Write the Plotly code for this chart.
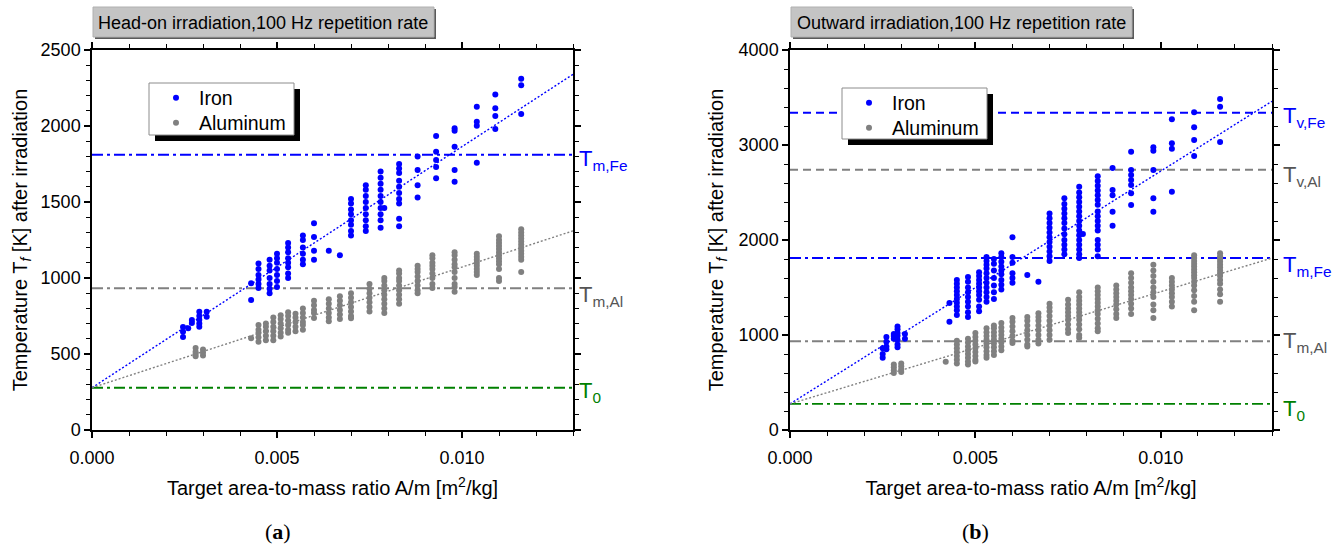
import plotly.graph_objects as go

W, H = 1339, 556

# ---------------- data ----------------
# Head-on irradiation (a)
fe_a_cols = [0.00246, 0.0026, 0.0027, 0.0029, 0.0031, 0.0043, 0.0045, 0.0048, 0.0050, 0.0053,
             0.0057, 0.0060, 0.0064, 0.0067, 0.0070, 0.0074, 0.0078, 0.0079, 0.0083, 0.0088,
             0.0093, 0.0098, 0.0104, 0.0109, 0.0116]
fe_a_vals = [[612, 647, 678], [670], [704, 724], [680, 700, 725, 750, 778], [745, 778],
             [855, 966], [935, 960, 990, 1020, 1060, 1095], [900, 930, 960, 1000, 1050, 1080, 1120],
             [940, 980, 1020, 1060, 1100, 1130, 1160], [1000, 1030, 1070, 1100, 1130, 1170, 1200, 1230],
             [1090, 1120, 1160, 1200, 1250, 1280], [1120, 1180, 1270, 1360], [1180], [1150],
             [1280, 1310, 1350, 1380, 1420, 1450, 1490, 1520],
             [1310, 1340, 1380, 1420, 1460, 1500, 1540, 1580, 1610],
             [1330, 1380, 1420, 1460, 1500, 1540, 1580, 1620, 1660, 1700], [1460],
             [1340, 1390, 1490, 1520, 1560, 1600, 1640, 1690, 1720, 1750],
             [1530, 1610, 1710, 1800], [1656, 1730, 1776, 1831, 1934],
             [1634, 1711, 1864, 1969, 1986], [1758, 2002, 2028, 2127],
             [1980, 2066, 2116, 2208], [2079, 2268, 2311]]

al_a_cols = [0.0028, 0.0030, 0.0043, 0.0045, 0.0047, 0.0049, 0.0051, 0.0053, 0.0055, 0.0057,
             0.0060, 0.0064, 0.0067, 0.0070, 0.0075, 0.0079, 0.0083, 0.0088, 0.0092, 0.0098,
             0.0104, 0.0110, 0.0116]
al_a_vals = [[485, 500, 515, 540], [490, 510, 530], [604], [580, 610, 640, 660, 690],
             [590, 620, 650, 680, 700], [590, 620, 650, 680, 710, 740],
             [615, 640, 670, 700, 730, 755], [640, 660, 690, 720, 750, 775],
             [650, 680, 710, 740, 765], [660, 690, 710, 740, 770, 800],
             [737, 770, 790, 820, 850], [715, 740, 770, 800, 830, 860],
             [730, 760, 790, 820, 850, 880], [735, 750, 780, 810, 840, 870, 900],
             [780, 810, 840, 870, 900, 930, 960], [770, 800, 830, 860, 890, 920, 950, 980, 1000],
             [830, 860, 890, 920, 950, 980, 1000, 1030, 1050],
             [900, 920, 950, 980, 1010, 1040, 1060, 1080],
             [935, 960, 1000, 1030, 1060, 1080, 1100, 1130, 1150],
             [910, 940, 960, 1000, 1040, 1070, 1090, 1120, 1150, 1170],
             [1020, 1040, 1060, 1080, 1100, 1120, 1140, 1160],
             [980, 1000, 1060, 1090, 1110, 1130, 1150, 1170, 1190, 1210, 1230, 1250, 1275],
             [1040, 1120, 1140, 1160, 1180, 1200, 1220, 1240, 1260, 1280, 1300, 1320]]

# Outward irradiation (b)
fe_b_cols = [0.0025, 0.0026, 0.0028, 0.0029, 0.0031, 0.0043, 0.0045, 0.0048, 0.0051, 0.0053,
             0.0055, 0.0057, 0.0060, 0.0064, 0.0067, 0.0070, 0.0074, 0.0078, 0.0079, 0.0083,
             0.0087, 0.0092, 0.0098, 0.0103, 0.0109, 0.0116]
fe_b_vals = [[760, 800, 860], [850, 880, 930, 980], [960, 990, 1010],
             [870, 900, 950, 990, 1020, 1060, 1090], [960, 1010], [1140, 1337],
             [1210, 1260, 1300, 1340, 1380, 1420, 1460, 1500, 1540, 1580],
             [1190, 1240, 1300, 1350, 1400, 1450, 1500, 1560, 1610],
             [1250, 1300, 1370, 1420, 1460, 1500, 1540, 1580, 1620, 1660],
             [1350, 1400, 1450, 1500, 1550, 1600, 1650, 1700, 1740, 1780, 1820],
             [1380, 1450, 1520, 1600, 1680, 1750, 1800],
             [1480, 1530, 1580, 1640, 1680, 1720, 1770, 1820, 1860],
             [1550, 1600, 1650, 1760, 1820, 2030], [1631], [1561],
             [1780, 1830, 1880, 1930, 1980, 2030, 2080, 2130, 2180, 2230, 2280],
             [1850, 1900, 1950, 2000, 2060, 2120, 2180, 2230, 2280, 2330, 2380, 2440],
             [1810, 1850, 1900, 1950, 2000, 2050, 2100, 2150, 2200, 2250, 2300, 2350, 2400,
              2450, 2500, 2560], [2063],
             [1830, 1900, 1950, 2000, 2100, 2150, 2200, 2250, 2300, 2370, 2420, 2470, 2520,
              2570, 2620, 2670],
             [2151, 2298, 2470, 2526, 2758], [2368, 2491, 2579, 2632, 2684, 2737, 2930],
             [2298, 2439, 2737, 2940, 2976], [2509, 2961, 3018, 3270],
             [2884, 3053, 3186, 3344], [3032, 3403, 3484]]

al_b_cols = [0.0028, 0.0030, 0.0042, 0.0045, 0.0048, 0.0050, 0.0053, 0.0055, 0.0057, 0.0060,
             0.0064, 0.0067, 0.0070, 0.0075, 0.0078, 0.0083, 0.0088, 0.0092, 0.0098, 0.0103,
             0.0109, 0.0116]
al_b_vals = [[600, 630, 660, 690], [610, 640, 670, 700], [719],
             [700, 740, 780, 820, 860, 900, 940], [690, 720, 760, 800, 840, 880, 920, 960],
             [720, 740, 780, 820, 860, 900, 940, 980, 1020],
             [760, 790, 830, 870, 910, 950, 990, 1030, 1070],
             [790, 830, 870, 910, 950, 990, 1030, 1070, 1100],
             [840, 880, 920, 960, 1000, 1040, 1080, 1126],
             [915, 940, 990, 1040, 1090, 1140, 1180],
             [880, 900, 950, 1000, 1050, 1100, 1150, 1190],
             [910, 950, 1000, 1050, 1100, 1150, 1190, 1230],
             [950, 1000, 1050, 1100, 1150, 1200, 1250, 1290, 1330],
             [1020, 1060, 1110, 1160, 1200, 1240, 1280, 1320, 1370],
             [970, 1000, 1060, 1110, 1160, 1200, 1240, 1280, 1320, 1360, 1400, 1450],
             [1040, 1070, 1120, 1170, 1220, 1260, 1300, 1340, 1380, 1420, 1460, 1500],
             [1180, 1220, 1270, 1320, 1360, 1400, 1440, 1480, 1520],
             [1220, 1280, 1330, 1380, 1420, 1460, 1500, 1550, 1600, 1650],
             [1180, 1260, 1320, 1400, 1450, 1500, 1560, 1620, 1680, 1740],
             [1300, 1350, 1400, 1440, 1480, 1520, 1560, 1600],
             [1260, 1350, 1410, 1470, 1520, 1560, 1600, 1630, 1660, 1690, 1720, 1750, 1780,
              1810, 1840],
             [1350, 1430, 1480, 1540, 1580, 1620, 1650, 1680, 1710, 1740, 1770, 1800, 1830,
              1860]]

x_span = [0.0, 0.013]
fit_a_fe = [278, 2340]
fit_a_al = [278, 1310]
fit_b_fe = [275, 3460]
fit_b_al = [275, 1810]

T0_a, Tm_Fe_a, Tm_Al_a = 278, 1811, 933
T0_b, Tm_Fe_b, Tm_Al_b, Tv_Fe_b, Tv_Al_b = 275, 1811, 933, 3340, 2740

titles = ["Head-on irradiation,100 Hz repetition rate", "Outward irradiation,100 Hz repetition rate"]
xtitle = "Target area-to-mass ratio A/m [m<sup>2</sup>/kg]"
ytitle = "Temperature T<sub><i>f</i></sub> [K] after irradiation"

BLUE = "#0000ff"
GRAY = "#808080"
DGRAY = "#555555"
GREEN = "#008000"
FONT = "Liberation Sans, Arial, sans-serif"

# plot-area geometry (pixels)
L, R, T, B = 92, 1272, 50, 430


def flatten(cols, vals):
    xs, ys = [], []
    for c, v in zip(cols, vals):
        xs += [c] * len(v)
        ys += v
    return xs, ys


def px(x):
    return (x - L) / (R - L)


def py(y):
    return (B - y) / (B - T)


fig = go.Figure()

DASHDOT = "11px,4px,3px,4px"


def hline(val, color, dash, xa, ya, width=1.8):
    fig.add_trace(go.Scatter(x=x_span, y=[val, val], mode="lines", xaxis=xa, yaxis=ya,
                             line=dict(color=color, dash=dash, width=width),
                             showlegend=False, hoverinfo="skip"))


hline(Tm_Fe_a, BLUE, DASHDOT, "x", "y", 2)
hline(Tm_Al_a, GRAY, DASHDOT, "x", "y", 2)
hline(T0_a, GREEN, DASHDOT, "x", "y", 1.8)
hline(Tv_Fe_b, BLUE, "8px,5px", "x2", "y2", 2)
hline(Tv_Al_b, GRAY, "8px,5px", "x2", "y2", 2)
hline(Tm_Fe_b, BLUE, DASHDOT, "x2", "y2", 2)
hline(Tm_Al_b, GRAY, DASHDOT, "x2", "y2", 2)
hline(T0_b, GREEN, DASHDOT, "x2", "y2", 1.8)

for fit, col, xa, ya in [(fit_a_fe, BLUE, "x", "y"), (fit_a_al, GRAY, "x", "y"),
                         (fit_b_fe, BLUE, "x2", "y2"), (fit_b_al, GRAY, "x2", "y2")]:
    fig.add_trace(go.Scatter(x=x_span, y=fit, mode="lines", xaxis=xa, yaxis=ya,
                             line=dict(color=col, dash="2px,2px", width=1.4),
                             showlegend=False, hoverinfo="skip"))

MS = 6
for cols, vals, name, col, xa, ya, lg in [
    (fe_a_cols, fe_a_vals, "Iron", BLUE, "x", "y", "legend"),
    (al_a_cols, al_a_vals, "Aluminum", GRAY, "x", "y", "legend3"),
    (fe_b_cols, fe_b_vals, "Iron", BLUE, "x2", "y2", "legend2"),
    (al_b_cols, al_b_vals, "Aluminum", GRAY, "x2", "y2", "legend4"),
]:
    xs, ys = flatten(cols, vals)
    fig.add_trace(go.Scatter(x=xs, y=ys, mode="markers", name=name, xaxis=xa, yaxis=ya,
                             marker=dict(color=col, size=MS, line=dict(width=0)),
                             legend=lg))

minor_style = dict(ticks="outside", ticklen=4, tickcolor="black", tickwidth=1.2)
axis_common = dict(showline=True, linecolor="black", linewidth=1.5, mirror="ticks",
                   ticks="outside", tickcolor="black", tickwidth=1.5, ticklen=6,
                   showgrid=False, zeroline=False, automargin=False,
                   tickfont=dict(family=FONT, size=18, color="black"),
                   title_font=dict(family=FONT, size=20, color="black"))

xa_common = dict(range=[0, 0.013], dtick=0.005, tick0=0, tickformat=".3f",
                 ticklabelstandoff=5, title=dict(text=xtitle, standoff=14),
                 minor=dict(dtick=0.001, **minor_style), **axis_common)

legend_common = dict(xanchor="left", yanchor="middle", bgcolor="rgba(0,0,0,0)",
                     borderwidth=0, font=dict(family=FONT, size=19.5, color="black"),
                     itemsizing="trace", itemwidth=36, tracegroupgap=0)

fig.update_layout(
    width=W, height=H, margin=dict(l=L, r=W - R, t=T, b=H - B, autoexpand=False),
    paper_bgcolor="white", plot_bgcolor="white",
    xaxis=dict(domain=[0, px(573)], anchor="y", **xa_common),
    xaxis2=dict(domain=[px(790), 1], anchor="y2", **xa_common),
    yaxis=dict(domain=[0, 1], range=[0, 2500], dtick=500, anchor="x",
               title=dict(text=ytitle, standoff=8),
               minor=dict(dtick=100, **minor_style), **axis_common),
    yaxis2=dict(domain=[0, 1], range=[0, 4000], dtick=1000, anchor="x2",
                title=dict(text=ytitle, standoff=10),
                minor=dict(dtick=200, **minor_style), **axis_common),
    legend=dict(x=px(153), y=py(98), **legend_common),
    legend3=dict(x=px(153), y=py(123), **legend_common),
    legend2=dict(x=px(846), y=py(103), **legend_common),
    legend4=dict(x=px(846), y=py(128), **legend_common),
    showlegend=True,
)

shapes = []
for (lx0, ly0, lx1, ly1) in [(149, 83, 294, 135), (842, 88, 987, 139)]:
    shapes.append(dict(type="rect", xref="paper", yref="paper",
                       x0=px(lx0 + 6), x1=px(lx1 + 6), y0=py(ly1 + 6), y1=py(ly0 + 6),
                       fillcolor="black", line=dict(width=0)))
    shapes.append(dict(type="rect", xref="paper", yref="paper",
                       x0=px(lx0), x1=px(lx1), y0=py(ly1), y1=py(ly0),
                       fillcolor="white", line=dict(color="#8c8c8c", width=1)))
for (bx0, by0, bx1, by1) in [(93, 7, 434, 37), (791, 7, 1132, 37)]:
    shapes.append(dict(type="rect", xref="paper", yref="paper",
                       x0=px(bx0 + 2), x1=px(bx1 + 2), y0=py(by1 + 2), y1=py(by0 + 2),
                       fillcolor="#5a5a5a", line=dict(width=0)))
    shapes.append(dict(type="rect", xref="paper", yref="paper",
                       x0=px(bx0), x1=px(bx1), y0=py(by1), y1=py(by0),
                       fillcolor="#c4c4c4", line=dict(color="#b0b0b0", width=1)))
fig.update_layout(shapes=shapes)

ann = []
for txt, cx in [(titles[0], 263), (titles[1], 961)]:
    ann.append(dict(text=txt, x=px(cx), y=py(23), xref="paper", yref="paper",
                    showarrow=False, xanchor="center", yanchor="middle",
                    font=dict(family=FONT, size=18, color="black")))

TL = 22
labels = [
    ("T<sub>m,Fe</sub>", 577, 160, BLUE),
    ("T<sub>m,Al</sub>", 577, 296, DGRAY),
    ("T<sub>0</sub>", 577, 392, GREEN),
    ("T<sub>v,Fe</sub>", 1281, 117, BLUE),
    ("T<sub>v,Al</sub>", 1281, 176, DGRAY),
    ("T<sub>m,Fe</sub>", 1281, 266, BLUE),
    ("T<sub>m,Al</sub>", 1281, 342, DGRAY),
    ("T<sub>0</sub>", 1281, 410, GREEN),
]
for txt, lx, ly, col in labels:
    ann.append(dict(text=txt, x=px(lx), y=py(ly), xref="paper", yref="paper",
                    showarrow=False, xanchor="left", yanchor="middle",
                    font=dict(family=FONT, size=TL, color=col)))

for txt, cx in [("(<b>a</b>)", 278), ("(<b>b</b>)", 975)]:
    ann.append(dict(text=txt, x=px(cx), y=py(531), xref="paper", yref="paper",
                    showarrow=False, xanchor="center", yanchor="middle",
                    font=dict(family="Liberation Serif, serif", size=22, color="black")))

fig.update_layout(annotations=ann)

fig.write_html("out.html")
